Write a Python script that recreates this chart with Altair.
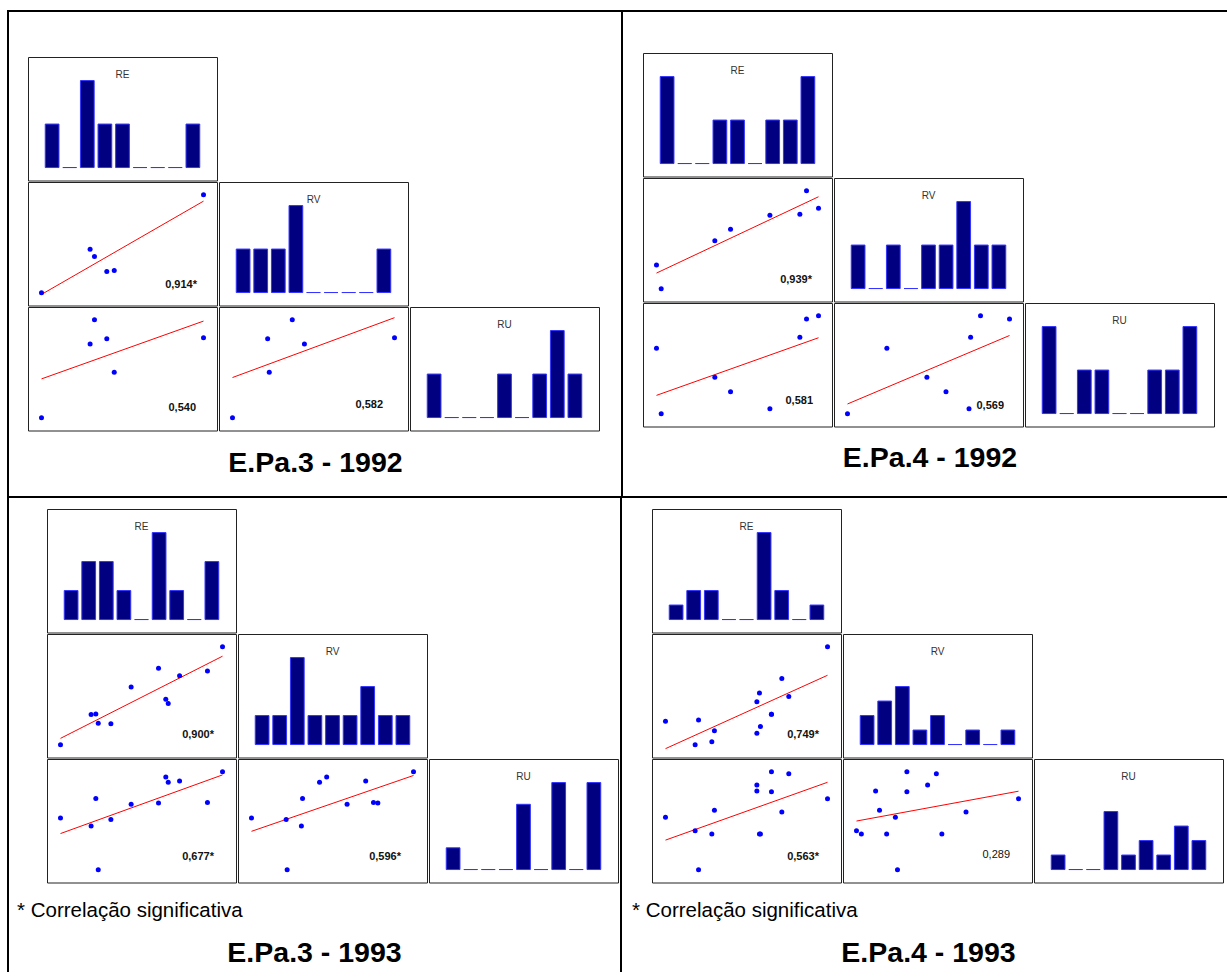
import altair as alt
import pandas as pd

FONT = "Liberation Sans"

# ---------------- data (values on a relative 0-100 scale) ----------------
QUAD_TITLES = ["E.Pa.3 - 1992", "E.Pa.4 - 1992", "E.Pa.3 - 1993", "E.Pa.4 - 1993"]
FOOTNOTE = "* Correlação significativa"
VAR_NAMES = ["RE", "RV", "RU"]

# E.Pa.3 - 1992
RE_3_92 = [0, 30.0, 32.7, 40.3, 44.9, 100]
RV_3_92 = [0, 44.4, 36.9, 21.7, 22.7, 100]
RU_3_92 = [0, 75.3, 100, 80.7, 46.4, 81.7]
HIST_RE_3_92 = [1, 0, 2, 1, 1, 0, 0, 0, 1]
HIST_RV_3_92 = [1, 1, 1, 2, 0, 0, 0, 0, 1]
HIST_RU_3_92 = [1, 0, 0, 0, 1, 0, 1, 2, 1]
CORR_3_92 = ["0,914*", "0,540", "0,582"]

# E.Pa.4 - 1992
RE_4_92 = [0, 2.9, 36.0, 45.7, 70.0, 88.5, 92.6, 100]
RV_4_92 = [24.3, 0, 49.0, 60.8, 75.0, 76.0, 100, 82.1]
RU_4_92 = [66.8, 0, 37.3, 22.4, 5.1, 78.0, 96.6, 100]
HIST_RE_4_92 = [2, 0, 0, 1, 1, 0, 1, 1, 2]
HIST_RV_4_92 = [1, 0, 1, 0, 1, 1, 2, 1, 1]
HIST_RU_4_92 = [2, 0, 1, 1, 0, 0, 1, 1, 2]
CORR_4_92 = ["0,939*", "0,581", "0,569"]

# E.Pa.3 - 1993
RE_3_93 = [0, 18.9, 21.8, 23.3, 31.1, 43.6, 60.5, 65.0, 66.5, 73.5, 90.7, 100]
RV_3_93 = [0, 30.8, 31.5, 22.0, 21.4, 59.0, 78.0, 46.4, 42.0, 70.5, 75.3, 100]
RU_3_93 = [52.7, 44.6, 72.6, 0, 51.4, 66.9, 68.2, 94.6, 89.2, 90.5, 68.6, 100]
HIST_RE_3_93 = [1, 2, 2, 1, 0, 3, 1, 0, 2]
HIST_RV_3_93 = [1, 1, 3, 1, 1, 1, 2, 1, 1]
HIST_RU_3_93 = [1, 0, 0, 0, 3, 0, 4, 0, 4]
CORR_3_93 = ["0,900*", "0,677*", "0,596*"]

# E.Pa.4 - 1993
RE_4_93 = [0, 18.3, 20.4, 28.6, 30.2, 56.4, 56.4, 58.0, 58.6, 65.4, 65.4, 71.8, 76.1, 100]
RV_4_93 = [24.0, 0, 25.3, 3.0, 14.2, 11.8, 43.9, 52.7, 18.6, 31.1, 31.1, 67.6, 49.3, 100]
RU_4_93 = [53.6, 39.7, 0, 36.6, 60.7, 80.3, 86.4, 36.6, 36.6, 100, 79.7, 59.0, 98.0, 72.5]
HIST_RE_4_93 = [1, 2, 2, 0, 0, 6, 2, 0, 1]
HIST_RV_4_93 = [2, 3, 4, 1, 2, 0, 1, 0, 1]
HIST_RU_4_93 = [1, 0, 0, 4, 1, 2, 1, 3, 2]
CORR_4_93 = ["0,749*", "0,563*", "0,289"]

# histogram count-axis maxima (per panel)
HIST_MAX = [[2, 2, 2], [2, 2, 2], [3, 3, 4], [6, 6, 6]]
CORR_BOLD = [[True, True, True], [True, True, True], [True, True, True], [True, True, False]]

# ---------------- styles / layout ----------------
PW, PH = 189, 123.5
COL_GAP, ROW_GAP = 0, 0
BORDER = "#222222"
BAR_FILL = "#000080"
BAR_STROKE = "#3535ff"
POINT_COLOR = "#0000ff"
FIT_COLOR = "#ff0000"
XDOM = [-8.33, 108.33]
YDOM = [-13.0, 113.0]
CORR_POS = [
    [(169, 103), (168, 101), (164, 98)],
    [(169, 102), (170, 98), (170, 103)],
    [(167, 101), (167, 98), (163, 98)],
    [(167, 101), (167, 98), (167, 96)],
]

DUMMY = pd.DataFrame({"d": [0]})
PANEL_VIEW = alt.ViewBackground(stroke=BORDER, strokeWidth=1)
NO_VIEW = alt.ViewBackground(stroke="transparent", strokeWidth=0)


def hist_panel(counts, name, ymax):
    df = pd.DataFrame({"bin": list(range(len(counts))), "count": counts})
    lo = -0.149 * ymax
    hi = 1.271 * ymax
    bars = alt.Chart(df).mark_bar(fill=BAR_FILL, stroke=BAR_STROKE, strokeWidth=1).encode(
        x=alt.X("bin:O", axis=None, scale=alt.Scale(paddingInner=0.22, paddingOuter=0.98)),
        y=alt.Y("count:Q", axis=None, scale=alt.Scale(domain=[lo, hi], nice=False, zero=False)),
    )
    lab = alt.Chart(pd.DataFrame({"t": [name]})).mark_text(
        font=FONT, fontSize=10, color="#333333", align="center", baseline="middle"
    ).encode(x=alt.value(PW / 2), y=alt.value(18), text="t:N")
    return alt.layer(bars, lab).properties(width=PW, height=PH, view=PANEL_VIEW)


def scatter_panel(xs, ys, label, bold, pos):
    df = pd.DataFrame({"x": xs, "y": ys})
    base = alt.Chart(df)
    xe = alt.X("x:Q", axis=None, scale=alt.Scale(domain=XDOM, nice=False, zero=False))
    ye = alt.Y("y:Q", axis=None, scale=alt.Scale(domain=YDOM, nice=False, zero=False))
    fit = base.transform_regression("x", "y").mark_line(color=FIT_COLOR, strokeWidth=1).encode(x=xe, y=ye)
    pts = base.mark_circle(size=25, color=POINT_COLOR, opacity=1).encode(x=xe, y=ye)
    txt = alt.Chart(pd.DataFrame({"t": [label]})).mark_text(
        font=FONT, fontSize=11, fontWeight="bold" if bold else "normal",
        align="right", baseline="middle", color="#111111",
    ).encode(x=alt.value(pos[0]), y=alt.value(pos[1]), text="t:N")
    return alt.layer(fit, pts, txt).properties(width=PW, height=PH, view=PANEL_VIEW)


def matrix(qi, re, rv, ru, hists, corrs):
    hm = HIST_MAX[qi]
    bold = CORR_BOLD[qi]
    pos = CORR_POS[qi]
    r1 = hist_panel(hists[0], VAR_NAMES[0], hm[0])
    r2 = alt.hconcat(
        scatter_panel(re, rv, corrs[0], bold[0], pos[0]),
        hist_panel(hists[1], VAR_NAMES[1], hm[1]),
        spacing=COL_GAP,
    )
    r3 = alt.hconcat(
        scatter_panel(re, ru, corrs[1], bold[1], pos[1]),
        scatter_panel(rv, ru, corrs[2], bold[2], pos[2]),
        hist_panel(hists[2], VAR_NAMES[2], hm[2]),
        spacing=COL_GAP,
    )
    return alt.vconcat(r1, r2, r3, spacing=ROW_GAP)


def blank(w, h):
    return alt.Chart(DUMMY).mark_rect(opacity=0).encode(
        x=alt.value(0), x2=alt.value(w), y=alt.value(0), y2=alt.value(h)
    ).properties(width=w, height=h, view=NO_VIEW)


def frame_rect(x0, x1, y0, y1):
    # a solid black bar used as a frame line (exact bounds, no stroke overflow)
    return alt.Chart(DUMMY).mark_rect(color="#000000").encode(
        x=alt.value(x0), x2=alt.value(x1), y=alt.value(y0), y2=alt.value(y1)
    )


def caption(w, h, title, tx, ty, note=None, nx=0, ny=0, line_x=None):
    layers = []
    if line_x is not None:
        layers.append(frame_rect(line_x, line_x + 2, 0, h))
    layers.append(
        alt.Chart(pd.DataFrame({"t": [title]})).mark_text(
            font=FONT, fontSize=28.5, fontWeight="bold", align="center",
            baseline="alphabetic", color="#000000",
        ).encode(x=alt.value(tx), y=alt.value(ty), text="t:N")
    )
    if note:
        layers.append(
            alt.Chart(pd.DataFrame({"t": [note]})).mark_text(
                font=FONT, fontSize=20.5, align="left", baseline="alphabetic", color="#000000",
            ).encode(x=alt.value(nx), y=alt.value(ny), text="t:N")
        )
    return alt.layer(*layers).properties(width=w, height=h, view=NO_VIEW)


def vline(w, h, x0):
    return frame_rect(x0, x0 + 2, 0, h).properties(width=w, height=h, view=NO_VIEW)


def hline(w, h, y0, x0, x1):
    return frame_rect(x0, x1, y0, y0 + 2).properties(width=w, height=h, view=NO_VIEW)


ROW1_H = 484
ROW2_TOP_H = 389
ROW2_CAP_H = 85

# Row 1 (1992)
q1 = alt.vconcat(
    blank(1, 44),
    matrix(0, RE_3_92, RV_3_92, RU_3_92, [HIST_RE_3_92, HIST_RV_3_92, HIST_RU_3_92], CORR_3_92),
    caption(575, 60, QUAD_TITLES[0], 287.5, 40.5),
    spacing=0,
)
q2 = alt.vconcat(
    blank(1, 40),
    matrix(1, RE_4_92, RV_4_92, RU_4_92, [HIST_RE_4_92, HIST_RV_4_92, HIST_RU_4_92], CORR_4_92),
    caption(575, 60, QUAD_TITLES[1], 287, 40),
    spacing=0,
)

# Row 2 (1993)
q3_top = alt.hconcat(
    vline(46, ROW2_TOP_H, 7),
    alt.vconcat(
        blank(1, 10),
        matrix(2, RE_3_93, RV_3_93, RU_3_93, [HIST_RE_3_93, HIST_RV_3_93, HIST_RU_3_93], CORR_3_93),
        spacing=0,
    ),
    spacing=0,
)
q3 = alt.vconcat(
    q3_top,
    caption(620, ROW2_CAP_H, QUAD_TITLES[2], 314.5, 75, FOOTNOTE, 17, 30, line_x=7),
    spacing=0,
)
q4_top = alt.hconcat(
    vline(31, ROW2_TOP_H, 0),
    alt.vconcat(
        blank(1, 10),
        matrix(3, RE_4_93, RV_4_93, RU_4_93, [HIST_RE_4_93, HIST_RV_4_93, HIST_RU_4_93], CORR_4_93),
        spacing=0,
    ),
    spacing=0,
)
q4 = alt.vconcat(
    q4_top,
    caption(600, ROW2_CAP_H, QUAD_TITLES[3], 308.5, 75, FOOTNOTE, 12, 30, line_x=0),
    spacing=0,
)

row1 = alt.hconcat(vline(27, ROW1_H, 7), q1, vline(39, ROW1_H, 18), q2, spacing=0)
row2 = alt.hconcat(q3, q4, spacing=0)

chart = alt.vconcat(
    hline(1227, 12, 10, 7, 1227),
    row1,
    hline(1227, 2, 0, 7, 1227),
    row2,
    spacing=0,
).properties(padding=0, background="#ffffff").configure_view(stroke="transparent")

chart.save("out.html", embed_options={"renderer": "svg", "actions": False})
